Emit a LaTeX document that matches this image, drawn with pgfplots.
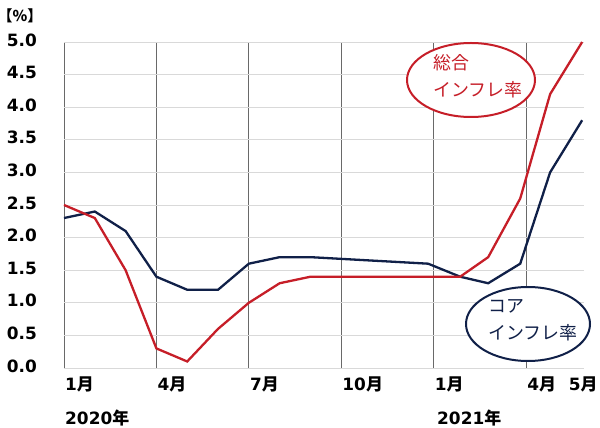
\documentclass[border=0pt]{standalone}
\usepackage{fontspec}
\setmainfont{DejaVu Sans}
\newfontfamily\jp{Noto Sans CJK JP}
\usepackage{pgfplots}
\pgfplotsset{compat=1.18}

\definecolor{sogo}{RGB}{198,30,40}
\definecolor{core}{RGB}{16,32,72}
\definecolor{hgrid}{RGB}{217,217,217}
\definecolor{vgrid}{RGB}{105,105,105}
\newcommand\tsuki[1]{#1{\jp 月}}
\newcommand\bigfont{\fontsize{17}{20}\selectfont}
\newcommand\notefont{\jp\fontsize{18}{20}\selectfont}

\begin{document}
\begin{tikzpicture}
\path[use as bounding box] (-64bp,-60bp) rectangle (536bp,368bp);
\begin{axis}[
    at={(0,0)}, anchor=south west,
    scale only axis,
    width=520bp, height=326bp,
    xmin=0, xmax=16.88,
    ymin=0, ymax=5,
    clip=false,
    axis line style={draw=none},
    major tick length=0pt,
    xtick={0,3,6,9,12,15},
    xticklabels={\tsuki{1},\tsuki{4},\tsuki{7},\tsuki{10},\tsuki{1},\tsuki{4}},
    extra x ticks={16.82},
    extra x tick labels={\tsuki{5}},
    extra x tick style={grid=none, xticklabel style={anchor=north, xshift=0bp}},
    ytick={0,0.5,1,1.5,2,2.5,3,3.5,4,4.5,5},
    xmajorgrids, ymajorgrids,
    x grid style={vgrid, line width=0.8bp},
    y grid style={hgrid, line width=0.9bp},
    xticklabel style={font=\bfseries\bigfont, anchor=north west, inner sep=0pt, xshift=1bp, yshift=-9bp},
    yticklabel style={font=\bfseries\bigfont, anchor=east, inner sep=0pt, xshift=-27bp, yshift=2bp,
        /pgf/number format/fixed, /pgf/number format/fixed zerofill,
        /pgf/number format/precision=1, /pgf/number format/assume math mode=true},
]

% core inflation
\addplot[color=core, line width=2.3bp] coordinates {
    (0,2.3) (1,2.4) (2,2.1) (3,1.4) (4,1.2) (5,1.2) (6,1.6) (7,1.7) (8,1.7)
    (11.82,1.6) (12.86,1.4) (13.77,1.3) (14.81,1.6) (15.78,3.0) (16.82,3.8)
};

% headline inflation
\addplot[color=sogo, line width=2.3bp] coordinates {
    (0,2.5) (1,2.3) (2,1.5) (3,0.3) (4,0.1) (5,0.6) (6,1.0) (7,1.3) (8,1.4)
    (12.86,1.4) (13.77,1.7) (14.81,2.6) (15.78,4.2) (16.82,5.0)
};

\end{axis}

\node[inner sep=0pt, font=\bfseries\fontsize{15}{17}\selectfont\jp] at (-44bp,352bp) {【\%】};

\node[anchor=west, inner sep=0pt, font=\bfseries\bigfont] at (1bp,-50bp) {2020{\jp 年}};
\node[anchor=west, inner sep=0pt, font=\bfseries\bigfont] at (373bp,-50bp) {2021{\jp 年}};

\draw[sogo, line width=2bp, fill=white] (407bp,288bp) ellipse [x radius=64bp, y radius=37bp];
\node[anchor=west, inner sep=0pt, text=sogo, font=\notefont] at (369bp,305bp) {総合};
\node[anchor=west, inner sep=0pt, text=sogo, font=\notefont] at (369bp,278bp) {インフレ率};

\draw[core, line width=2bp, fill=white] (464bp,44bp) ellipse [x radius=62bp, y radius=37bp];
\node[anchor=west, inner sep=0pt, text=core, font=\notefont] at (424bp,62bp) {コア};
\node[anchor=west, inner sep=0pt, text=core, font=\notefont] at (424bp,35bp) {インフレ率};
\end{tikzpicture}
\end{document}
